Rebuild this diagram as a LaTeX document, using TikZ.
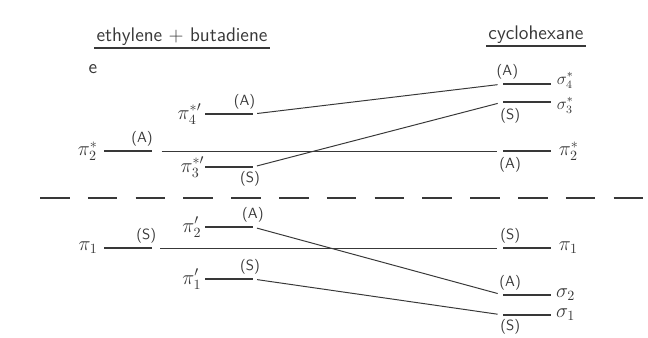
\documentclass[tikz,border=0pt]{standalone}
\usepackage{amsmath}
\usetikzlibrary{positioning}
\colorlet{ink}{black!78}
\tikzset{
  level/.style={rectangle, fill=ink, inner sep=0pt, minimum width=1.18cm, minimum height=2.1pt},
  orb/.style={text=ink, inner sep=0.5pt, font=\Large},
  sym/.style={text=ink, inner sep=1pt, font=\sffamily\fontsize{10.5}{12}\selectfont},
  title/.style={text=ink, inner sep=1.5pt, font=\sffamily\fontsize{14}{16}\selectfont},
  corr/.style={ink, line width=0.7pt, shorten <=3pt, shorten >=4pt},
  rule/.style={ink, line width=1.1pt},
  divider/.style={ink, line width=1.1pt, dash pattern=on 21pt off 13pt}
}

\begin{document}
\begin{tikzpicture}[x=0.025cm, y=-0.025cm]
\useasboundingbox (0,0) rectangle (648,337);

% headings
\node[title] (ebtitle) at (182,37) {ethylene + butadiene};
\node[title] (cytitle) at (536,35) {cyclohexane};
\draw[rule] (ebtitle.south west) -- (ebtitle.south east);
\draw[rule] (cytitle.south west) -- (cytitle.south east);
\node[title] (elabel) at (93,69) {e};

% ethylene levels
\node[level] (eth2) at (128,151) {};
\node[level] (eth1) at (128,248) {};
% butadiene levels
\node[level] (bu4) at (229,114) {};
\node[level] (bu3) at (229,167) {};
\node[level] (bu2) at (229,227) {};
\node[level] (bu1) at (229,279) {};
% cyclohexane levels
\node[level] (cy4) at (527,84) {};
\node[level] (cy3) at (527,102) {};
\node[level] (cypi2) at (527,151) {};
\node[level] (cypi1) at (527,248) {};
\node[level] (cy2) at (527,295) {};
\node[level] (cy1) at (527,315) {};

% orbital names
\node[orb, left=4pt of eth2] {$\pi_2^{*}$};
\node[orb, left=4pt of eth1] {$\pi_1$};
\node[orb, left=2pt of bu4] {$\pi_4^{*\prime}$};
\node[orb, left=0pt of bu3] {$\pi_3^{*\prime}$};
\node[orb, left=2pt of bu2] {$\pi_2^{\prime}$};
\node[orb, left=2pt of bu1] {$\pi_1^{\prime}$};
\node[orb, font=\large, inner sep=0pt, right=4pt of cy4, yshift=2.5pt] {$\sigma_4^{*}$};
\node[orb, font=\large, inner sep=0pt, right=4pt of cy3, yshift=-2.5pt] {$\sigma_3^{*}$};
\node[orb, right=5pt of cypi2] {$\pi_2^{*}$};
\node[orb, right=5pt of cypi1] {$\pi_1$};
\node[orb, right=3pt of cy2] {$\sigma_2$};
\node[orb, right=3pt of cy1] {$\sigma_1$};

% symmetry labels
\node[sym, above=1pt of eth2.north east, xshift=-7pt] {(A)};
\node[sym, above=1pt of eth1.north east, xshift=-4pt] {(S)};
\node[sym, above=1pt of bu4.north east, xshift=-6pt] {(A)};
\node[sym, below=1pt of bu3.south east, xshift=-2pt] {(S)};
\node[sym, above=1pt of bu2.north east, xshift=0pt] {(A)};
\node[sym, above=1pt of bu1.north east, xshift=-2pt] {(S)};
\node[sym, above=1pt of cy4.north west, xshift=3pt] {(A)};
\node[sym, below=2pt of cy3.south west, xshift=5pt] {(S)};
\node[sym, below=2pt of cypi2.south west, xshift=5pt] {(A)};
\node[sym, above=1pt of cypi1.north west, xshift=5pt] {(S)};
\node[sym, above=1pt of cy2.north west, xshift=5pt] {(A)};
\node[sym, below=1pt of cy1.south west, xshift=5pt] {(S)};

% correlation lines
\draw[corr] (bu4.east) -- (cy4.west);
\draw[corr] (bu3.east) -- (cy3.west);
\draw[corr, shorten <=7pt] (eth2.east) -- (cypi2.west);
\draw[corr] (bu2.east) -- (cy2.west);
\draw[corr, shorten <=6pt] (eth1.east) -- (cypi1.west);
\draw[corr] (bu1.east) -- (cy1.west);

% bonding / antibonding divide
\draw[divider] (40,198) -- (645,198);

\end{tikzpicture}
\end{document}
